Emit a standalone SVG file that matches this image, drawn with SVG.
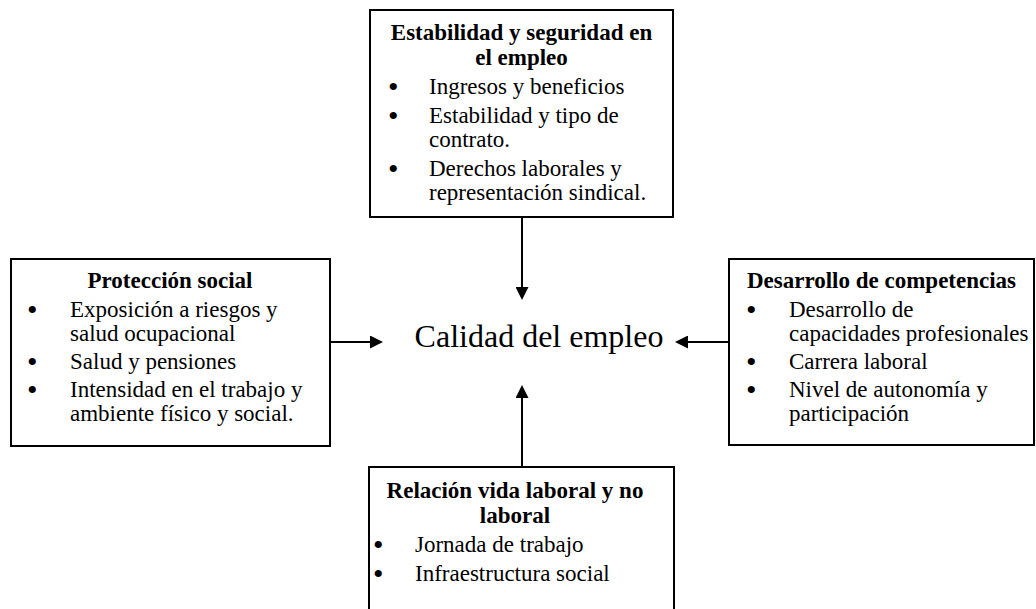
<svg xmlns="http://www.w3.org/2000/svg" width="1036" height="609" viewBox="0 0 1036 609">
<style>
text{font-family:"Liberation Serif","Times New Roman",serif;fill:#000;font-size:23px}
.t{font-weight:bold;text-anchor:middle}
.c{font-size:32px;text-anchor:middle}
.b{font-size:30px}
.box{fill:#fff;stroke:#000;stroke-width:2}
.con{stroke:#000;stroke-width:2;fill:none}
</style>
<defs>
<marker id="ah" viewBox="0 0 13 13" refX="0" refY="6.5" markerWidth="13" markerHeight="13" markerUnits="userSpaceOnUse" orient="auto">
<path d="M0,0 L13,6.5 L0,13 z" fill="#000"/>
</marker>
</defs>
<rect width="1036" height="609" fill="#fff"/>
<g id="connectors">
<line class="con" x1="522" y1="217" x2="522" y2="287" marker-end="url(#ah)"/>
<line class="con" x1="522" y1="467" x2="522" y2="398" marker-end="url(#ah)"/>
<line class="con" x1="330" y1="342" x2="370" y2="342" marker-end="url(#ah)"/>
<line class="con" x1="729" y1="342" x2="688" y2="342" marker-end="url(#ah)"/>
</g>
<g id="estabilidad">
<rect class="box" x="370" y="10" width="303" height="207"/>
<text class="t" x="521.5" y="40">Estabilidad y seguridad en</text>
<text class="t" x="521.5" y="65">el empleo</text>
<text class="b" x="388" y="97">•</text><text x="429" y="94">Ingresos y beneficios</text>
<text class="b" x="388" y="126">•</text><text x="429" y="123">Estabilidad y tipo de</text>
<text x="429" y="147">contrato.</text>
<text class="b" x="388" y="179">•</text><text x="429" y="176">Derechos laborales y</text>
<text x="429" y="200">representación sindical.</text>
</g>
<g id="proteccion">
<rect class="box" x="11" y="259" width="319" height="187"/>
<text class="t" x="170" y="288">Protección social</text>
<text class="b" x="27" y="320">•</text><text x="70" y="317">Exposición a riesgos y</text>
<text x="70" y="341">salud ocupacional</text>
<text class="b" x="27" y="372">•</text><text x="70" y="369">Salud y pensiones</text>
<text class="b" x="27" y="400">•</text><text x="70" y="397">Intensidad en el trabajo y</text>
<text x="70" y="421">ambiente físico y social.</text>
</g>
<g id="desarrollo">
<rect class="box" x="729" y="259" width="305" height="186"/>
<text class="t" x="881.5" y="288">Desarrollo de competencias</text>
<text class="b" x="746" y="320">•</text><text x="789" y="317">Desarrollo de</text>
<text x="789" y="341">capacidades profesionales</text>
<text class="b" x="746" y="372">•</text><text x="789" y="369">Carrera laboral</text>
<text class="b" x="746" y="400">•</text><text x="789" y="397">Nivel de autonomía y</text>
<text x="789" y="421">participación</text>
</g>
<g id="relacion">
<rect class="box" x="369" y="467" width="305" height="150"/>
<text class="t" x="515" y="498">Relación vida laboral y no</text>
<text class="t" x="515" y="523">laboral</text>
<text class="b" x="373" y="555">•</text><text x="415" y="552">Jornada de trabajo</text>
<text class="b" x="373" y="584">•</text><text x="415" y="581">Infraestructura social</text>
</g>
<g id="calidad">
<text class="c" x="539" y="347">Calidad del empleo</text>
</g>
</svg>
